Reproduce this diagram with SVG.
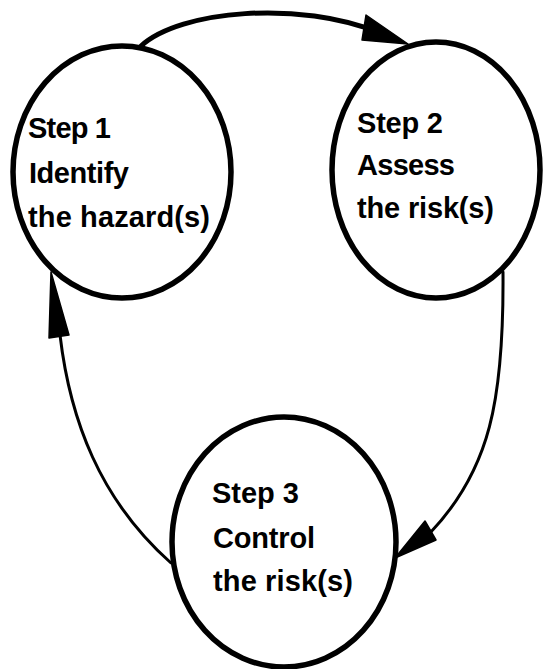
<svg xmlns="http://www.w3.org/2000/svg" width="544" height="669" viewBox="0 0 544 669">
<style>
.node{fill:none;stroke:#000;stroke-width:5.5}
.lbl{font-family:"Liberation Sans",Arial,sans-serif;font-weight:bold;font-size:29px;fill:#000}
.thick{fill:none;stroke:#000;stroke-width:5;stroke-linecap:round}
.thin{fill:none;stroke:#000;stroke-width:3;stroke-linecap:round}
.head{fill:#000;stroke:#000;stroke-width:1.5;stroke-linejoin:round}
</style>
<rect width="544" height="669" fill="#fff"/>
<g id="connectors">
<path class="thick" d="M141,46 C180,10 300,0 380,33"/>
<polygon class="head" points="366,15 408,44 362,40"/>
<path class="thin" d="M503,272 C504,400 490,470 430,533"/>
<polygon class="head" points="425,521 436,540 395,558"/>
<path class="thin" d="M171,563 C100,500 70,420 60,335"/>
<polygon class="head" points="51,272 49,338 69,335"/>
</g>
<g id="step1">
<ellipse class="node" cx="122" cy="172" rx="109" ry="126"/>
<text class="lbl" x="28" y="138" textLength="83">Step 1</text>
<text class="lbl" x="29" y="183" textLength="100">Identify</text>
<text class="lbl" x="28" y="227" textLength="182">the hazard(s)</text>
</g>
<g id="step2">
<ellipse class="node" cx="436" cy="170" rx="104" ry="128"/>
<text class="lbl" x="357" y="133" textLength="86">Step 2</text>
<text class="lbl" x="357" y="175" textLength="98">Assess</text>
<text class="lbl" x="357" y="218" textLength="137">the risk(s)</text>
</g>
<g id="step3">
<ellipse class="node" cx="284" cy="542" rx="112" ry="125"/>
<text class="lbl" x="212" y="503" textLength="87">Step 3</text>
<text class="lbl" x="213" y="548" textLength="102">Control</text>
<text class="lbl" x="213" y="591" textLength="140">the risk(s)</text>
</g>
</svg>
